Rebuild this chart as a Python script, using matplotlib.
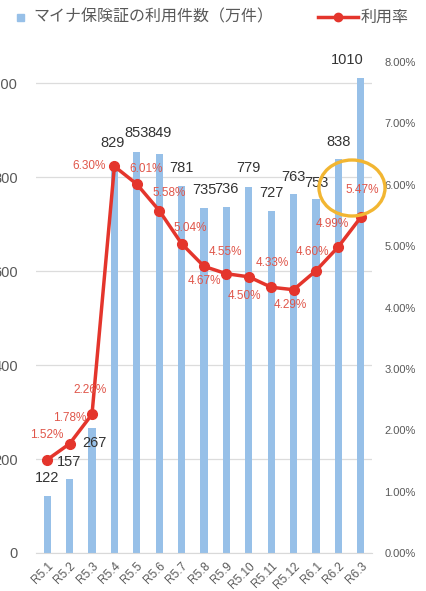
import numpy as np
import matplotlib.pyplot as plt
from matplotlib.patches import Ellipse, Rectangle
from matplotlib.lines import Line2D

# data
months = ['R5.1', 'R5.2', 'R5.3', 'R5.4', 'R5.5', 'R5.6', 'R5.7', 'R5.8',
          'R5.9', 'R5.10', 'R5.11', 'R5.12', 'R6.1', 'R6.2', 'R6.3']
counts = [122, 157, 267, 829, 853, 849, 781, 735, 736, 779, 727, 763, 753, 838, 1010]
rates = [1.52, 1.78, 2.26, 6.30, 6.01, 5.58, 5.04, 4.67, 4.55, 4.50, 4.33, 4.29, 4.60, 4.99, 5.47]

# label offsets in pixels (dx, dy)
count_off = [(0, 18), (-1, 17), (2, -15), (-2, 20), (0, 19), (0, 21), (0, 18), (0, 18),
             (0, 18), (0, 19), (0, 18), (0, 17), (0, 16), (0, 17), (-14, 18)]
rate_off = [(0, 25), (0, 26), (-2, 24), (-25, 0), (9, 15), (10, 18), (9, 16), (0, -15),
            (-1, 22), (-4, -19), (1, 24), (-3, -15), (-4, 19), (-6, 23), (1, 27)]

W, H = 426, 591
fig = plt.figure(figsize=(W / 100, H / 100), dpi=100)
ax = fig.add_axes([36 / W, 38 / H, 336 / W, 491 / H])
ax2 = ax.twinx()

x = np.arange(len(months))
bar_c = '#97C0E8'
red = '#E4352C'
gray = '#595959'

ax.bar(x, counts, width=0.33, color=bar_c, zorder=2)
ax.set_xlim(-0.5, len(months) - 0.5)
ax.set_ylim(0, 1045)
ax.set_yticks([0, 200, 400, 600, 800, 1000])
ax.grid(axis='y', color='#DCDCDC', lw=0.9, zorder=0)
ax.set_axisbelow(True)
for s in ['top', 'right', 'left']:
    ax.spines[s].set_visible(False)
ax.spines['bottom'].set_color('#D9D9D9')
ax.tick_params(axis='y', length=0, pad=13, labelsize=10.5, labelcolor=gray)
ax.set_xticks(x)
ax.set_xticklabels(months, rotation=45, ha='right', rotation_mode='anchor',
                   fontsize=8.5, color=gray)
ax.tick_params(axis='x', length=0, pad=5)
for lab in ax.get_yticklabels() + ax.get_xticklabels():
    lab.set_family('Liberation Sans')

r = np.array(rates) / 100
ax2.plot(x, r, color=red, lw=2.5, marker='o', ms=7, zorder=3)
ax2.set_ylim(0, 0.08)
ax2.set_yticks(np.arange(0, 0.081, 0.01))
ax2.set_yticklabels([f'{v:.2f}%' for v in np.arange(0, 8.01, 1)])
ax2.tick_params(axis='y', length=0, pad=9, labelsize=8, labelcolor=gray)
for lab in ax2.get_yticklabels():
    lab.set_family('Liberation Sans')
for s in ax2.spines.values():
    s.set_visible(False)

for i, v in enumerate(counts):
    ax2.annotate(str(v), (x[i], v / 1045 * 0.08), xytext=count_off[i],
                 textcoords='offset pixels', ha='center', va='center',
                 fontsize=10.5, color='#333333', family='Liberation Sans', zorder=5)
for i, v in enumerate(rates):
    ax2.annotate(f'{v:.2f}%', (x[i], v / 100), xytext=rate_off[i],
                 textcoords='offset pixels', ha='center', va='center',
                 fontsize=8.5, color='#E0564A', family='Liberation Sans', zorder=5)

# yellow highlight circle
fig.patches.append(Ellipse((352 / W, 1 - 188 / H), 66 / W, 56 / H, fill=False,
                           ec='#F2B632', lw=2.4, transform=fig.transFigure))

# legend
jp = ['Noto Sans CJK JP', 'DejaVu Sans']
fig.patches.append(Rectangle((17 / W, 1 - 21 / H), 7 / W, 7 / H, color=bar_c,
                             transform=fig.transFigure))
fig.text(33 / W, 1 - 17 / H, 'マイナ保険証の利用件数（万件）', family=jp, fontsize=11.5,
         color=gray, va='center', ha='left')
fig.lines.append(Line2D([318 / W, 358 / W], [1 - 17 / H, 1 - 17 / H], color=red, lw=2.5,
                        transform=fig.transFigure))
fig.lines.append(Line2D([338 / W], [1 - 17 / H], color=red, marker='o', ms=6,
                        transform=fig.transFigure))
fig.text(361 / W, 1 - 17 / H, '利用率', family=jp, fontsize=11.5,
         color=gray, va='center', ha='left')

fig.savefig('out.png', dpi=100)
